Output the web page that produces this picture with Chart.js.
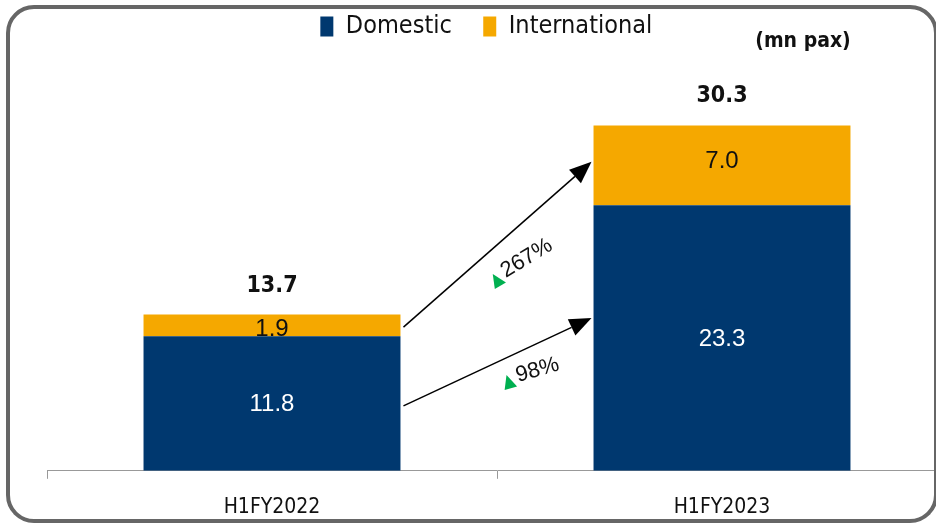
<!DOCTYPE html>
<html>
<head>
<meta charset="utf-8">
<script src="https://cdn.jsdelivr.net/npm/chart.js@4/dist/chart.umd.min.js"></script>
<style>
  html, body { margin: 0; padding: 0; background: #fff; overflow: hidden; }
  #wrap { position: relative; width: 936px; height: 526px; overflow: hidden; }
  #c { position: absolute; left: 0; top: 0; }
  #frame { position: absolute; left: 6px; top: 5px; width: 924px; height: 510px;
           border: 4px solid #666; border-radius: 28px; pointer-events: none; }
</style>
</head>
<body>
<div id="wrap">
  <canvas id="c" width="960" height="542" style="width:960px;height:542px"></canvas>
  <div id="frame"></div>
</div>
<script>
const categories = ['H1FY2022', 'H1FY2023'];
const seriesNames = ['Domestic', 'International'];
const domestic = [11.8, 23.3];
const international = [1.9, 7.0];
const totals = [13.7, 30.3];
const growthLabels = ['267%', '98%'];
// arrow start (on first bar) and end (on second bar) values
const arrowStart = [12.6, 5.7];
const arrowEnd = [27.1, 13.4];
const unitLabel = '(mn pax)';

const NAVY = '#00386F';
const GOLD = '#F5A800';
const NARROW = "'Liberation Sans Narrow', 'DejaVu Sans Condensed', sans-serif";
const SANS = "'Liberation Sans', Arial, sans-serif";

const labelsPlugin = {
  id: 'labels',
  afterDatasetsDraw(chart) {
    const ctx = chart.ctx;
    const y = chart.scales.y;
    const m0 = chart.getDatasetMeta(0);
    const m1 = chart.getDatasetMeta(1);
    ctx.save();
    ctx.textAlign = 'center';
    ctx.textBaseline = 'middle';
    m0.data.forEach((b, i) => {
      ctx.fillStyle = '#fff';
      ctx.font = '24px ' + SANS;
      ctx.fillText(domestic[i].toFixed(1), b.x, (b.y + b.base) / 2 + 1);
    });
    m1.data.forEach((b, i) => {
      ctx.fillStyle = '#111';
      ctx.font = '24px ' + SANS;
      const h = b.base - b.y;
      ctx.fillText(international[i].toFixed(1), b.x, (b.y + b.base) / 2 + (h < 40 ? 4 : -4));
      ctx.font = 'bold 23px ' + NARROW;
      ctx.fillText(totals[i].toFixed(1), b.x, y.getPixelForValue(totals[i]) - 29);
    });
    ctx.font = 'bold 21px ' + NARROW;
    ctx.fillText(unitLabel, 803, 42);

    const b0 = m0.data[0], b1 = m0.data[1];
    const x0 = b0.x + b0.width / 2 + 3;
    const x1 = b1.x - b1.width / 2 - 2;
    const rot = [-31, -16];
    const offs = [[-2, 36], [10, 20]];
    for (let k = 0; k < 2; k++) {
      const ya = y.getPixelForValue(arrowStart[k]);
      const yb = y.getPixelForValue(arrowEnd[k]);
      const ang = Math.atan2(yb - ya, x1 - x0);
      const hl = 22, hw = 9;
      ctx.strokeStyle = '#000';
      ctx.fillStyle = '#000';
      ctx.lineWidth = 1.5;
      ctx.beginPath();
      ctx.moveTo(x0, ya);
      ctx.lineTo(x1 - hl * Math.cos(ang), yb - hl * Math.sin(ang));
      ctx.stroke();
      ctx.beginPath();
      ctx.moveTo(x1, yb);
      ctx.lineTo(x1 - hl * Math.cos(ang) + hw * Math.sin(ang), yb - hl * Math.sin(ang) - hw * Math.cos(ang));
      ctx.lineTo(x1 - hl * Math.cos(ang) - hw * Math.sin(ang), yb - hl * Math.sin(ang) + hw * Math.cos(ang));
      ctx.closePath();
      ctx.fill();
      const mx = (x0 + x1) / 2 + offs[k][0];
      const my = (ya + yb) / 2 + offs[k][1];
      ctx.save();
      ctx.translate(mx, my);
      ctx.rotate(rot[k] * Math.PI / 180);
      ctx.fillStyle = '#00B050';
      ctx.beginPath();
      ctx.moveTo(-5, 7);
      ctx.lineTo(8, 7);
      ctx.lineTo(1, -7);
      ctx.closePath();
      ctx.fill();
      ctx.fillStyle = '#111';
      ctx.font = '22px ' + SANS;
      ctx.textAlign = 'left';
      ctx.textBaseline = 'middle';
      ctx.fillText(growthLabels[k], 10, -3);
      ctx.restore();
    }
    ctx.restore();
  }
};

new Chart(document.getElementById('c'), {
  type: 'bar',
  data: {
    labels: categories,
    datasets: [
      { label: seriesNames[0], data: domestic, backgroundColor: NAVY, borderWidth: 0,
        barPercentage: 0.571, categoryPercentage: 1.0 },
      { label: seriesNames[1], data: international, backgroundColor: GOLD, borderWidth: 0,
        barPercentage: 0.571, categoryPercentage: 1.0 }
    ]
  },
  options: {
    responsive: false,
    animation: false,
    layout: { padding: { left: 47, right: 13, top: 4, bottom: 6 } },
    plugins: {
      tooltip: { enabled: false },
      legend: {
        display: true,
        position: 'top',
        labels: {
          boxWidth: 13, boxHeight: 20, padding: 10,
          color: '#111',
          font: { family: NARROW, size: 25 },
          generateLabels(chart) {
            const items = Chart.defaults.plugins.legend.labels.generateLabels(chart);
            items.forEach(it => { it.text = it.text + '   '; });
            return items;
          }
        }
      }
    },
    scales: {
      x: {
        stacked: true,
        offset: true,
        grid: { display: true, drawOnChartArea: false, drawTicks: true, tickLength: 8, color: '#999', offset: true },
        border: { display: true, color: '#999', width: 1 },
        ticks: { color: '#111', font: { family: NARROW, size: 21 }, padding: 16 }
      },
      y: {
        stacked: true,
        display: false,
        min: 0,
        max: 37
      }
    }
  },
  plugins: [labelsPlugin]
});
</script>
</body>
</html>
